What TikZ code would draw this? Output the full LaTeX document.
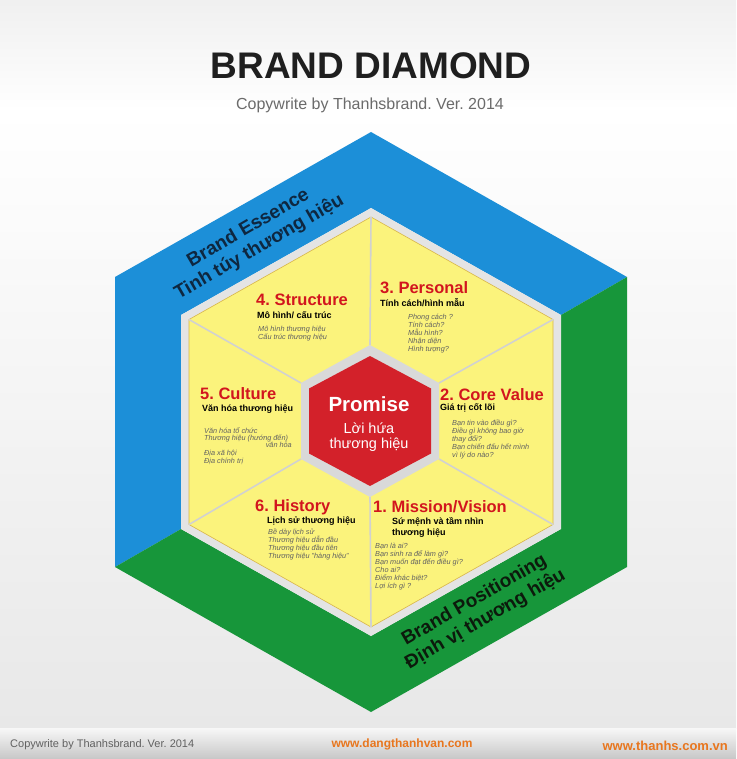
\documentclass[tikz,border=0pt]{standalone}
\usepackage{fontspec}
\setmainfont{Liberation Sans}
\usepackage{xcolor}
\usepackage{tikz}
\usetikzlibrary{positioning}
\frenchspacing
\definecolor{essenceblue}{HTML}{1C8FD8}
\definecolor{positiongreen}{HTML}{17963A}
\definecolor{sectoryellow}{HTML}{FBF37C}
\definecolor{sectoredge}{HTML}{D8B54A}
\definecolor{ringgray}{HTML}{E4E4E4}
\definecolor{coregray}{HTML}{D9D9D9}
\definecolor{promisered}{HTML}{D3212A}
\definecolor{titlered}{HTML}{D2151E}
\definecolor{footerorange}{HTML}{E8761E}
\definecolor{essencetext}{HTML}{0E2740}
\definecolor{positiontext}{HTML}{0C1A0C}

% hexagon corners: name, cx, cy, half width, half height (1 top, then clockwise)
\newcommand{\hexcoords}[5]{%
  \coordinate (#1-1) at (#2,#3-#5);
  \coordinate (#1-2) at (#2+#4,#3-#5/2);
  \coordinate (#1-3) at (#2+#4,#3+#5/2);
  \coordinate (#1-4) at (#2,#3+#5);
  \coordinate (#1-5) at (#2-#4,#3+#5/2);
  \coordinate (#1-6) at (#2-#4,#3-#5/2);
}
\newcommand{\fsz}[1]{\fontsize{#1}{#1}\selectfont}

\begin{document}
\begin{tikzpicture}[
        x=1pt, y=-1pt,
        every node/.style={inner sep=0pt},
        bigtitle/.style={font=\fsz{37}\bfseries, text=black!88},
        subline/.style={font=\fsz{16}, text=black!58},
        bandtext/.style={rotate=30, align=center, font=\fontsize{19}{22}\selectfont\bfseries},
        sectitle/.style={anchor=west, font=\fsz{16.5}\bfseries, text=titlered},
        secsub/.style={anchor=west, font=\fsz{9}\bfseries, text=black},
        seclist/.style={anchor=north west, align=left, font=\fontsize{7.3}{7.9}\selectfont\itshape, text=black!62},
        spoke/.style={draw=black!18, line width=1.6pt},
        footer/.style={font=\fsz{11}, text=black!62},
        weblink/.style={font=\fsz{12}\bfseries, text=footerorange}
    ]
        \useasboundingbox (0,0) rectangle (736,759);

        % Background
        \shade[top color=black!6, bottom color=white] (0,0) rectangle (736,110);
        \shade[top color=white, bottom color=black!9] (0,110) rectangle (736,728);
        \shade[top color=black!3, bottom color=black!22] (0,728) rectangle (736,759);

        % Header
        \node[bigtitle] (title) at (371,66) {BRAND DIAMOND};
        \node[subline] (copyright) at (370,105) {Copywrite by Thanhsbrand. Ver. 2014};

        % Hexagon corners
        \hexcoords{outer}{371}{422}{256}{290}
        \hexcoords{ring}{371}{422}{190}{214}
        \hexcoords{inner}{371}{422}{182}{205}
        \hexcoords{core}{370}{421}{69}{76}
        \hexcoords{promise}{370}{421}{61}{65}

        % Essence and Positioning bands
        \fill[essenceblue] (outer-5) -- (outer-6) -- (outer-1) -- (outer-2)
            -- (ring-2) -- (ring-1) -- (ring-6) -- (ring-5) -- cycle;
        \fill[positiongreen] (outer-2) -- (outer-3) -- (outer-4) -- (outer-5)
            -- (ring-5) -- (ring-4) -- (ring-3) -- (ring-2) -- cycle;

        % Ring and sectors
        \fill[ringgray] (ring-1) -- (ring-2) -- (ring-3) -- (ring-4) -- (ring-5) -- (ring-6) -- cycle;
        \filldraw[fill=sectoryellow, draw=sectoredge, line width=0.6pt]
            (inner-1) -- (inner-2) -- (inner-3) -- (inner-4) -- (inner-5) -- (inner-6) -- cycle;
        \foreach \i in {1,...,6}
            \draw[spoke] (core-\i) -- (inner-\i);

        % Promise
        \fill[coregray] (core-1) -- (core-2) -- (core-3) -- (core-4) -- (core-5) -- (core-6) -- cycle;
        \fill[promisered] (promise-1) -- (promise-2) -- (promise-3) -- (promise-4) -- (promise-5) -- (promise-6) -- cycle;
        \node[font=\fsz{20.5}\bfseries, text=white] (promise) at (369,404) {Promise};
        \node[font=\fsz{14.5}, text=white, align=center] (promisevn) at (369,437)
            {\fontsize{14.5}{17}\selectfont Lời hứa\\thương hiệu};

        % Band labels
        \node[bandtext, text=essencetext] (essence) at (254,238) {Brand Essence\\Tinh túy thương hiệu};
        \node[bandtext, text=positiontext] (positioning) at (480,610) {Brand Positioning\\Định vị thương hiệu};

        % 4. Structure
        \node[sectitle] (structure) at (256,300) {4. Structure};
        \node[secsub] (structuresub) at (257,315) {Mô hình/ cấu trúc};
        \node[seclist] (structurelist) at (258,326) {Mô hình thương hiệu\\Cấu trúc thương hiệu};

        % 3. Personal
        \node[sectitle] (personal) at (380,288) {3. Personal};
        \node[secsub] (personalsub) at (380,303) {Tính cách/hình mẫu};
        \node[seclist] (personallist) at (408,314)
            {Phong cách ?\\Tính cách?\\Mẫu hình?\\Nhận diện\\Hình tượng?};

        % 5. Culture
        \node[sectitle] (culture) at (200,394) {5. Culture};
        \node[secsub] (culturesub) at (202,409) {Văn hóa thương hiệu};
        \node[seclist] (culturelist) at (204,427) {Văn hóa tổ chức\\Thương hiệu (hướng đến)};
        \node[seclist, anchor=north east] (culturetail) at (292,442) {văn hóa};
        \node[seclist] (culturegeo) at (204,450) {Địa xã hội\\Địa chính trị};

        % 2. Core Value
        \node[sectitle] (corevalue) at (440,395) {2. Core Value};
        \node[secsub] (corevaluesub) at (440,408) {Giá trị cốt lõi};
        \node[seclist] (corevaluelist) at (452,420)
            {Bạn tin vào điều gì?\\Điều gì không bao giờ\\thay đổi?\\Bạn chiến đấu hết mình\\vì lý do nào?};

        % 6. History
        \node[sectitle] (history) at (255,507) {6. History};
        \node[secsub] (historysub) at (267,521) {Lịch sử thương hiệu};
        \node[seclist] (historylist) at (268,529)
            {Bề dày lịch sử\\Thương hiệu dẫn đầu\\Thương hiệu đầu tiên\\Thương hiệu "hàng hiệu"};

        % 1. Mission/Vision
        \node[sectitle] (mission) at (373,507) {1. Mission/Vision};
        \node[secsub, anchor=north west, align=left, font=\fontsize{9}{11}\selectfont\bfseries] (missionsub) at (392,517)
            {Sứ mệnh và tầm nhìn\\thương hiệu};
        \node[seclist] (missionlist) at (375,543)
            {Bạn là ai?\\Bạn sinh ra để làm gì?\\Bạn muốn đạt đến điều gì?\\Cho ai?\\Điểm khác biệt?\\Lợi ích gì ?};

        % Footer
        \node[footer, anchor=west] (footcopy) at (10,745) {Copywrite by Thanhsbrand. Ver. 2014};
        \node[weblink] (website1) at (402,744) {www.dangthanhvan.com};
        \node[weblink, anchor=east, font=\fsz{13}\bfseries] (website2) at (728,746) {www.thanhs.com.vn};

    \end{tikzpicture}
\end{document}
